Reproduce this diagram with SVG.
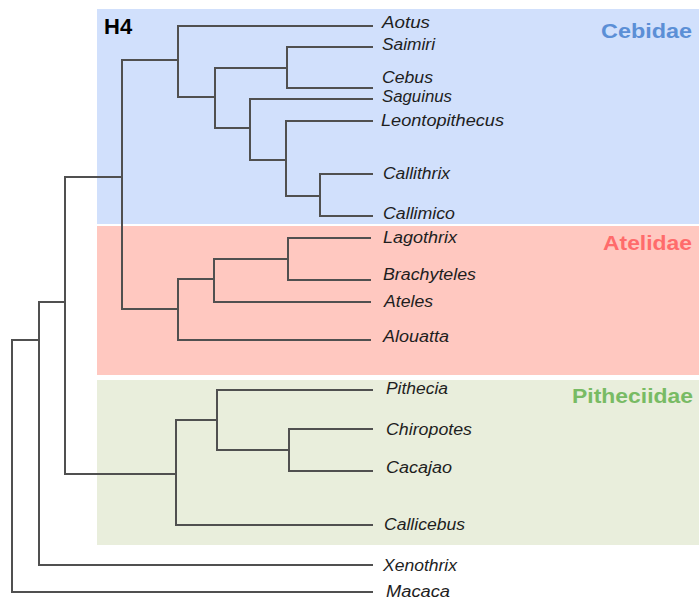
<svg xmlns="http://www.w3.org/2000/svg" width="699" height="608" viewBox="0 0 699 608">
<style>
.bg{stroke:none}
.br{fill:none;stroke:#505050;stroke-width:2;stroke-linecap:square}
.lab{font-family:"Liberation Sans",Arial,sans-serif;font-style:italic;font-size:16px;fill:#1e1e1e}
.fam{font-family:"Liberation Sans",Arial,sans-serif;font-weight:bold;font-size:20px}
</style>
<rect width="699" height="608" fill="#ffffff"/>
<g id="families">
<rect class="bg" x="97" y="9" width="602" height="215" fill="#d1e0fc"/>
<rect class="bg" x="97" y="226" width="602" height="149" fill="#ffc8c0"/>
<rect class="bg" x="97" y="380" width="602" height="165" fill="#e9eedc"/>
<text class="fam" x="601" y="38" fill="#5b8fd6" textLength="91" lengthAdjust="spacingAndGlyphs">Cebidae</text>
<text class="fam" x="603" y="250" fill="#ff6b6b" textLength="89" lengthAdjust="spacingAndGlyphs">Atelidae</text>
<text class="fam" x="572" y="403" fill="#78bb64" textLength="121" lengthAdjust="spacingAndGlyphs">Pitheciidae</text>
<text x="104" y="34" font-family="Liberation Sans,Arial,sans-serif" font-weight="bold" font-size="22" fill="#000">H4</text>
</g>
<g id="connectors">
<path class="br" d="M39,340 H12 V592 H372"/>
<path class="br" d="M65,302 H39 V565 H372"/>
<path class="br" d="M122,177 H65 V474 H176"/>
<path class="br" d="M178,60 H122 V309 H178"/>
<path class="br" d="M372,26 H178 V97 H215"/>
<path class="br" d="M287,68 H215 V128 H250"/>
<path class="br" d="M372,47 H287 V88 H372"/>
<path class="br" d="M372,99 H250 V160 H286"/>
<path class="br" d="M372,121 H286 V196 H320"/>
<path class="br" d="M372,174 H320 V216 H372"/>
<path class="br" d="M214,279 H178 V340 H370"/>
<path class="br" d="M288,259 H214 V302 H370"/>
<path class="br" d="M370,238 H288 V280 H370"/>
<path class="br" d="M217,420 H176 V525 H372"/>
<path class="br" d="M372,390 H217 V450 H289"/>
<path class="br" d="M372,429 H289 V471 H372"/>
</g>
<g id="Aotus"><text class="lab" x="382" y="28" textLength="48" lengthAdjust="spacingAndGlyphs">Aotus</text></g>
<g id="Saimiri"><text class="lab" x="382" y="50" textLength="53" lengthAdjust="spacingAndGlyphs">Saimiri</text></g>
<g id="Cebus"><text class="lab" x="382" y="83" textLength="51" lengthAdjust="spacingAndGlyphs">Cebus</text></g>
<g id="Saguinus"><text class="lab" x="382" y="102" textLength="70" lengthAdjust="spacingAndGlyphs">Saguinus</text></g>
<g id="Leontopithecus"><text class="lab" x="381" y="126" textLength="123" lengthAdjust="spacingAndGlyphs">Leontopithecus</text></g>
<g id="Callithrix"><text class="lab" x="383" y="179" textLength="67" lengthAdjust="spacingAndGlyphs">Callithrix</text></g>
<g id="Callimico"><text class="lab" x="383" y="219" textLength="72" lengthAdjust="spacingAndGlyphs">Callimico</text></g>
<g id="Lagothrix"><text class="lab" x="383" y="243" textLength="74" lengthAdjust="spacingAndGlyphs">Lagothrix</text></g>
<g id="Brachyteles"><text class="lab" x="383" y="280" textLength="93" lengthAdjust="spacingAndGlyphs">Brachyteles</text></g>
<g id="Ateles"><text class="lab" x="384" y="307" textLength="49" lengthAdjust="spacingAndGlyphs">Ateles</text></g>
<g id="Alouatta"><text class="lab" x="383" y="342" textLength="66" lengthAdjust="spacingAndGlyphs">Alouatta</text></g>
<g id="Pithecia"><text class="lab" x="386" y="394" textLength="62" lengthAdjust="spacingAndGlyphs">Pithecia</text></g>
<g id="Chiropotes"><text class="lab" x="386" y="435" textLength="86" lengthAdjust="spacingAndGlyphs">Chiropotes</text></g>
<g id="Cacajao"><text class="lab" x="386" y="473" textLength="66" lengthAdjust="spacingAndGlyphs">Cacajao</text></g>
<g id="Callicebus"><text class="lab" x="384" y="530" textLength="81" lengthAdjust="spacingAndGlyphs">Callicebus</text></g>
<g id="Xenothrix"><text class="lab" x="383" y="571" textLength="74" lengthAdjust="spacingAndGlyphs">Xenothrix</text></g>
<g id="Macaca"><text class="lab" x="386" y="597" textLength="64" lengthAdjust="spacingAndGlyphs">Macaca</text></g>
</svg>
